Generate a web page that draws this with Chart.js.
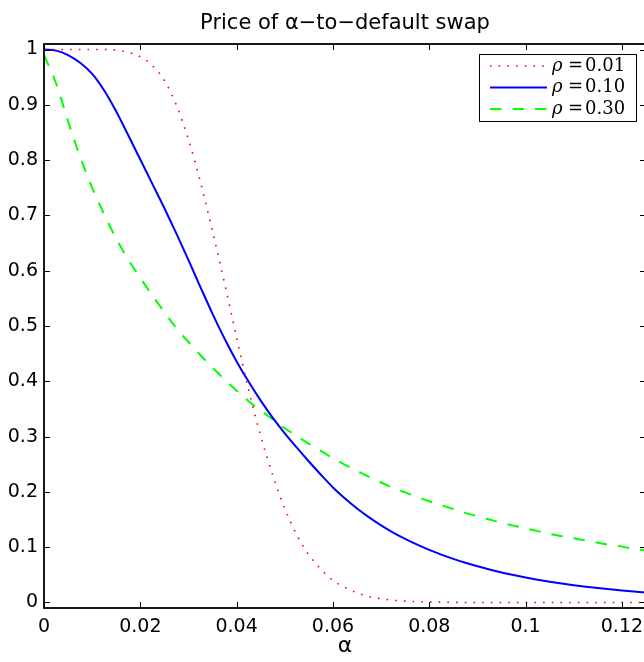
<!DOCTYPE html>
<html>
<head>
<meta charset="utf-8">
<script src="https://cdn.jsdelivr.net/npm/chart.js@4/dist/chart.umd.min.js"></script>
<style>
html,body{margin:0;padding:0;overflow:hidden;background:#fff;}
canvas{display:block;}
</style>
</head>
<body>
<canvas id="c" width="690" height="662"></canvas>
<script>
// ---- data ----
const alpha = [0,0.0025,0.005,0.0075,0.01,0.0125,0.015,0.0175,0.02,0.0225,0.025,0.0275,0.03,0.0325,0.035,0.0375,0.04,0.0425,0.045,0.0475,0.05,0.0525,0.055,0.0575,0.06,0.0625,0.065,0.0675,0.07,0.0725,0.075,0.0775,0.08,0.0825,0.085,0.0875,0.09,0.0925,0.095,0.0975,0.1,0.1025,0.105,0.1075,0.11,0.1125,0.115,0.1175,0.12,0.1225,0.125];
const rho001 = [1.000,1.000,1.000,1.000,1.000,1.000,0.999,0.995,0.987,0.971,0.944,0.899,0.837,0.760,0.671,0.577,0.479,0.384,0.301,0.230,0.170,0.122,0.086,0.060,0.040,0.027,0.0175,0.0105,0.0068,0.004,0.0025,0.0015,0.001,0.0005,0.0003,0,0,0,0,0,0,0,0,0,0,0,0,0,0,0,0];
const rho010 = [1.000,0.998,0.990,0.976,0.956,0.926,0.888,0.845,0.801,0.757,0.713,0.667,0.619,0.570,0.522,0.477,0.436,0.399,0.365,0.334,0.306,0.280,0.255,0.231,0.208,0.188,0.170,0.154,0.1395,0.1265,0.115,0.1045,0.095,0.0865,0.0788,0.0718,0.0654,0.0596,0.0543,0.0495,0.0451,0.0411,0.0375,0.0342,0.0312,0.0285,0.026,0.0237,0.0216,0.0197,0.018];
const rho030 = [0.990,0.939,0.870,0.806,0.750,0.702,0.658,0.620,0.587,0.555,0.525,0.496,0.471,0.447,0.425,0.403,0.383,0.364,0.347,0.331,0.315,0.301,0.287,0.274,0.261,0.249,0.238,0.227,0.217,0.207,0.199,0.191,0.183,0.176,0.169,0.162,0.156,0.150,0.144,0.139,0.134,0.129,0.124,0.120,0.116,0.112,0.108,0.104,0.101,0.097,0.094];
const seriesLabels = ['0.01','0.10','0.30'];
const xTicks = [0,0.02,0.04,0.06,0.08,0.1,0.12];
const xTickLabels = ['0','0.02','0.04','0.06','0.08','0.1','0.12'];
const yTicks = [0,0.1,0.2,0.3,0.4,0.5,0.6,0.7,0.8,0.9,1];
const yTickLabels = ['0','0.1','0.2','0.3','0.4','0.5','0.6','0.7','0.8','0.9','1'];
const titleText = 'Price of \u03b1\u2212to\u2212default swap';
const xTitle = '\u03b1';

const pts = ys => alpha.map((a,i)=>({x:a,y:ys[i]}));

const axesPlugin = {
  id:'matlabAxes',
  afterDatasetsDraw(chart){
    const {ctx, chartArea:a, scales:{x,y}} = chart;
    ctx.save();
    ctx.strokeStyle = '#000';
    ctx.lineWidth = 1;
    const tl = 6;
    ctx.beginPath();
    x.ticks.forEach(t=>{
      const px = Math.round(x.getPixelForValue(t.value))+0.5;
      ctx.moveTo(px,a.bottom); ctx.lineTo(px,a.bottom-tl);
      ctx.moveTo(px,a.top); ctx.lineTo(px,a.top+tl);
    });
    y.ticks.forEach(t=>{
      const py = Math.round(y.getPixelForValue(t.value))+0.5;
      ctx.moveTo(a.left,py); ctx.lineTo(a.left+tl,py);
      ctx.moveTo(a.right,py); ctx.lineTo(a.right-tl,py);
    });
    ctx.stroke();
    ctx.lineWidth = 1.8;
    ctx.strokeRect(a.left, a.top, a.right-a.left, a.bottom-a.top);
    ctx.restore();
  }
};

const legendPlugin = {
  id:'boxLegend',
  afterDraw(chart){
    const {ctx, chartArea:a} = chart;
    const right = a.right - 10, top = a.top + 10;
    const left = right - 157, bottom = top + 67;
    ctx.save();
    ctx.fillStyle = '#fff';
    ctx.fillRect(left, top, right-left, bottom-top);
    ctx.strokeStyle = '#000';
    ctx.lineWidth = 1;
    ctx.strokeRect(Math.round(left)+0.5, Math.round(top)+0.5, right-left, bottom-top);
    chart.data.datasets.forEach((ds,i)=>{
      const cy = top + 12 + i*21.5;
      ctx.save();
      ctx.strokeStyle = ds.borderColor;
      ctx.lineWidth = ds.borderWidth;
      ctx.setLineDash(ds.borderDash || []);
      ctx.beginPath();
      ctx.moveTo(left+11, cy); ctx.lineTo(left+68, cy);
      ctx.stroke();
      ctx.restore();
      ctx.fillStyle = '#000';
      ctx.textBaseline = 'middle';
      ctx.textAlign = 'left';
      ctx.font = 'italic 18px "DejaVu Serif"';
      ctx.fillText('\u03c1', left+73, cy);
      ctx.font = '18px "DejaVu Serif"';
      ctx.fillText('=', left+89, cy);
      ctx.fillText(seriesLabels[i], left+106, cy);
    });
    ctx.restore();
  }
};

const tickFont = {family:'DejaVu Sans', size:19};
new Chart(document.getElementById('c'), {
  type:'line',
  data:{datasets:[
    {label:'\u03c1 = '+seriesLabels[0], data:pts(rho001), borderColor:'rgb(255,0,0)', borderWidth:1.6, borderDash:[1.6,7.1], pointRadius:0, fill:false, cubicInterpolationMode:'monotone'},
    {label:'\u03c1 = '+seriesLabels[1], data:pts(rho010), borderColor:'rgb(0,0,255)', borderWidth:2, pointRadius:0, fill:false, cubicInterpolationMode:'monotone'},
    {label:'\u03c1 = '+seriesLabels[2], data:pts(rho030), borderColor:'rgb(0,255,0)', borderWidth:2, borderDash:[11.5,11], pointRadius:0, fill:false, cubicInterpolationMode:'monotone'}
  ]},
  options:{
    responsive:false, animation:false, devicePixelRatio:1,
    layout:{padding:0},
    plugins:{
      legend:{display:false}, tooltip:{enabled:false},
      title:{display:true, text:titleText, color:'#000', font:{family:'DejaVu Sans', size:21, weight:'normal'}, padding:{top:11,bottom:7.8}}
    },
    scales:{
      x:{type:'linear', min:0, max:0.125,
        afterBuildTicks:s=>{s.ticks = xTicks.map(v=>({value:v}));},
        afterFit:s=>{s.height = 54;},
        grid:{display:false, drawTicks:false}, border:{display:false},
        ticks:{color:'#000', font:tickFont, padding:8, maxRotation:0, autoSkip:false, callback:(v,i)=>xTickLabels[i]},
        title:{display:true, text:xTitle, color:'#000', font:{family:'DejaVu Sans', size:22}, padding:{top:0,bottom:3}}
      },
      y:{type:'linear', position:'left', min:-0.01, max:1.01,
        afterBuildTicks:s=>{s.ticks = yTicks.map(v=>({value:v}));},
        afterFit:s=>{s.width = 44;},
        grid:{display:false, drawTicks:false}, border:{display:false},
        ticks:{color:'#000', font:tickFont, padding:6, autoSkip:false, callback:(v,i)=>yTickLabels[i]}
      },
      yRight:{type:'linear', position:'right', min:0, max:1,
        afterFit:s=>{s.width = 44;},
        grid:{display:false, drawTicks:false}, border:{display:false},
        ticks:{display:false}
      }
    }
  },
  plugins:[axesPlugin, legendPlugin]
});
</script>
</body>
</html>
